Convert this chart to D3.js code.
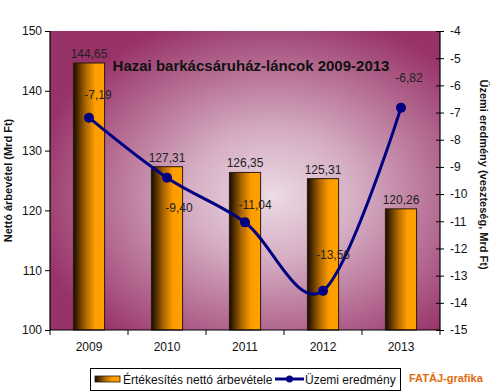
<!DOCTYPE html>
<html>
<head>
<meta charset="utf-8">
<script src="https://cdn.jsdelivr.net/npm/d3@7"></script>
<style>
  body { margin: 0; background: #fff; }
  svg text { font-family: "Liberation Sans", Arial, sans-serif; }
</style>
</head>
<body>
<div id="chart"></div>
<script>
// data
var years = ['2009', '2010', '2011', '2012', '2013'];
var revenue = [144.65, 127.31, 126.35, 125.31, 120.26];
var result = [-7.19, -9.40, -11.04, -13.56, -6.82];
var leftTicks = [100, 110, 120, 130, 140, 150];
var rightTicks = [-15, -14, -13, -12, -11, -10, -9, -8, -7, -6, -5, -4];

// where the line labels sit relative to their point
var lineLabelOffset = [[9, -23], [12, 30], [10, -17], [10, -36], [8, -30]];

var fmt = function(v) { return v.toFixed(2).replace('.', ','); };

var W = 490, H = 391;
var margin = {top: 31, right: 50, bottom: 61, left: 50};
var width = W - margin.left - margin.right,
    height = H - margin.top - margin.bottom;

var svg = d3.select('#chart').append('svg')
    .attr('width', W).attr('height', H);

var defs = svg.append('defs');
var bg = defs.append('radialGradient').attr('id', 'bg')
    .attr('cx', '57%').attr('cy', '55%').attr('r', '62%');
bg.append('stop').attr('offset', '0%').attr('stop-color', '#ecdbe5');
bg.append('stop').attr('offset', '35%').attr('stop-color', '#d5adc3');
bg.append('stop').attr('offset', '100%').attr('stop-color', '#983368');

var barGrad = defs.append('linearGradient').attr('id', 'bar')
    .attr('x1', '0%').attr('x2', '100%').attr('y1', '0%').attr('y2', '0%');
barGrad.append('stop').attr('offset', '0%').attr('stop-color', '#160b00');
barGrad.append('stop').attr('offset', '40%').attr('stop-color', '#b06800');
barGrad.append('stop').attr('offset', '70%').attr('stop-color', '#ff9d00');
barGrad.append('stop').attr('offset', '100%').attr('stop-color', '#ffa000');

var chart = svg.append('g')
    .attr('transform', 'translate(' + margin.left + ',' + margin.top + ')');

// scales
var xScale = d3.scaleBand().domain(years).range([0, width]).paddingInner(0).paddingOuter(0);
var yLeft = d3.scaleLinear().domain([100, 150]).range([height, 0]);
var yRight = d3.scaleLinear().domain([-15, -4]).range([height, 0]);

chart.append('rect')
    .attr('width', width).attr('height', height)
    .attr('fill', 'url(#bg)');

// bars
var barW = xScale.bandwidth() * 0.4;
chart.selectAll('rect.bar')
    .data(revenue)
    .enter().append('rect').attr('class', 'bar')
    .attr('x', function(d, i) { return xScale(years[i]) + (xScale.bandwidth() - barW) / 2; })
    .attr('y', function(d) { return yLeft(d); })
    .attr('width', barW)
    .attr('height', function(d) { return height - yLeft(d); })
    .attr('fill', 'url(#bar)')
    .attr('stroke', '#2b1a10')
    .attr('stroke-width', 1);

chart.selectAll('text.barlab')
    .data(revenue)
    .enter().append('text').attr('class', 'barlab')
    .attr('x', function(d, i) { return xScale(years[i]) + xScale.bandwidth() / 2; })
    .attr('y', function(d) { return yLeft(d) - 5; })
    .attr('text-anchor', 'middle')
    .attr('font-size', 12)
    .attr('fill', '#222')
    .text(fmt);

// line
var cx = function(d, i) { return xScale(years[i]) + xScale.bandwidth() / 2; };
var line = d3.line()
    .x(cx)
    .y(function(d) { return yRight(d); })
    .curve(d3.curveCardinal.tension(0));

chart.append('path')
    .attr('d', line(result))
    .attr('fill', 'none')
    .attr('stroke', '#000080')
    .attr('stroke-width', 3);

chart.selectAll('circle.pt')
    .data(result)
    .enter().append('circle').attr('class', 'pt')
    .attr('cx', cx)
    .attr('cy', function(d) { return yRight(d); })
    .attr('r', 5)
    .attr('fill', '#000080');

chart.selectAll('text.linelab')
    .data(result)
    .enter().append('text').attr('class', 'linelab')
    .attr('x', function(d, i) { return cx(d, i) + lineLabelOffset[i][0]; })
    .attr('y', function(d, i) { return yRight(d) + lineLabelOffset[i][1] + 4; })
    .attr('text-anchor', 'middle')
    .attr('font-size', 12)
    .attr('fill', '#222')
    .text(fmt);

// axes
var leftAxis = d3.axisLeft(yLeft).tickValues(leftTicks).tickSize(5).tickPadding(3)
    .tickFormat(d3.format('d'));
var gL = chart.append('g').call(leftAxis);

var rightAxis = d3.axisRight(yRight).tickValues(rightTicks).tickSize(4).tickPadding(6)
    .tickFormat(function(d) { return d; });
var gR = chart.append('g').attr('transform', 'translate(' + width + ',0)').call(rightAxis);
gR.selectAll('.tick line').attr('x1', -4);

var xAxis = d3.axisBottom(xScale).tickSize(0).tickPadding(12);
var gX = chart.append('g').attr('transform', 'translate(0,' + height + ')').call(xAxis);
// tick marks between categories
gX.selectAll('line.sep')
    .data(d3.range(years.length + 1))
    .enter().append('line').attr('class', 'sep')
    .attr('x1', function(i) { return i * xScale.step(); })
    .attr('x2', function(i) { return i * xScale.step(); })
    .attr('y1', 0).attr('y2', 5)
    .attr('stroke', '#000');

[gL, gR, gX].forEach(function(g) {
    g.select('.domain').attr('stroke', '#000').attr('stroke-width', 1.2);
    g.selectAll('.tick line').attr('stroke', '#000');
    g.selectAll('text').attr('font-size', 12).attr('fill', '#111')
        .attr('font-family', '"Liberation Sans", Arial, sans-serif');
});
gX.select('.domain').attr('d', 'M0,0H' + width);
gL.select('.domain').attr('d', 'M0,' + height + 'V0');
gR.select('.domain').attr('d', 'M0,' + height + 'V0');

// title
chart.append('text')
    .attr('x', 201).attr('y', 40)
    .attr('text-anchor', 'middle')
    .attr('font-size', 15).attr('font-weight', 'bold')
    .attr('fill', '#111')
    .text('Hazai barkácsáruház-láncok 2009-2013');

// axis titles
svg.append('text')
    .attr('transform', 'translate(12,' + (margin.top + height / 2) + ') rotate(-90)')
    .attr('text-anchor', 'middle')
    .attr('font-size', 11).attr('font-weight', 'bold')
    .attr('fill', '#111')
    .text('Nettó árbevétel (Mrd Ft)');

svg.append('text')
    .attr('transform', 'translate(480,' + (margin.top + height / 2 - 6) + ') rotate(90)')
    .attr('text-anchor', 'middle')
    .attr('font-size', 11).attr('font-weight', 'bold')
    .attr('fill', '#111')
    .text('Üzemi eredmény (veszteség, Mrd Ft)');

// legend
var lg = svg.append('g');
lg.append('rect')
    .attr('x', 90.5).attr('y', 368.5).attr('width', 310).attr('height', 22)
    .attr('fill', '#fff').attr('stroke', '#000').attr('stroke-width', 1);
lg.append('rect')
    .attr('x', 95).attr('y', 376).attr('width', 25).attr('height', 6)
    .attr('fill', 'url(#bar)').attr('stroke', '#2b1a10').attr('stroke-width', 0.8);
lg.append('text')
    .attr('x', 123).attr('y', 384)
    .attr('font-size', 12).attr('fill', '#111')
    .text('Értékesítés nettó árbevétele');
lg.append('line')
    .attr('x1', 275).attr('x2', 304).attr('y1', 379).attr('y2', 379)
    .attr('stroke', '#000080').attr('stroke-width', 3);
lg.append('circle')
    .attr('cx', 289.5).attr('cy', 379).attr('r', 3.5).attr('fill', '#000080');
lg.append('text')
    .attr('x', 305).attr('y', 384)
    .attr('font-size', 12).attr('fill', '#111')
    .text('Üzemi eredmény');

svg.append('text')
    .attr('x', 409).attr('y', 382)
    .attr('font-size', 11).attr('font-weight', 'bold')
    .attr('fill', '#e06a10')
    .text('FATÁJ-grafika');
</script>
</body>
</html>
